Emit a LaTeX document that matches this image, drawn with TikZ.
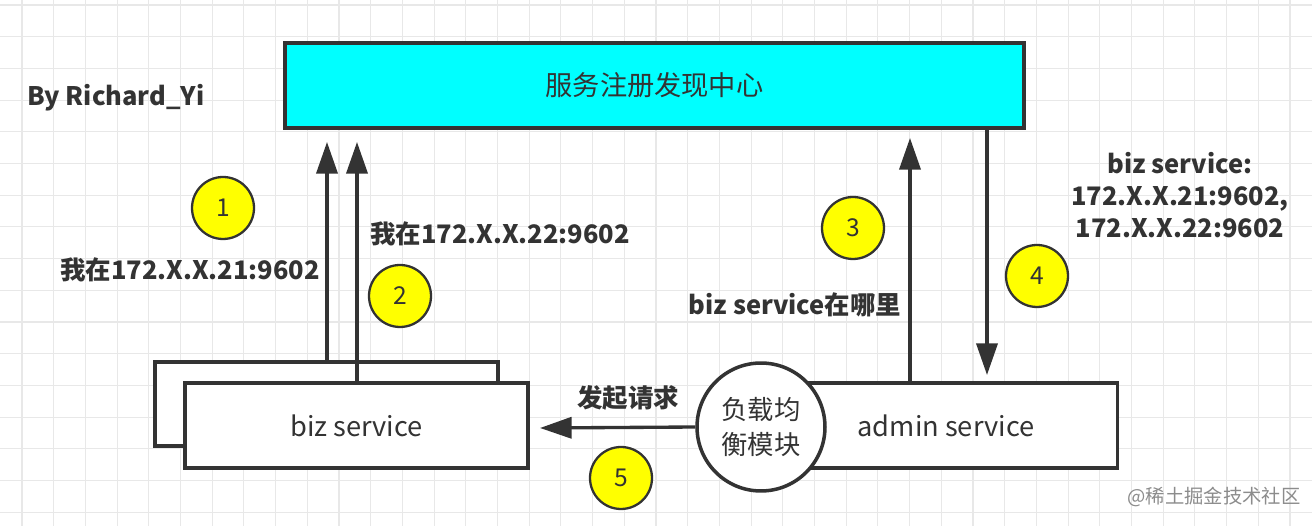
\documentclass[tikz,border=0pt]{standalone}
\usepackage{fontspec}
\setmainfont{Noto Sans CJK SC}
\usetikzlibrary{arrows.meta, positioning}
\definecolor{regcyan}{HTML}{00FFFF}
\definecolor{linegrey}{HTML}{333333}
\definecolor{markyellow}{HTML}{FFFF00}
\definecolor{gridgrey}{HTML}{E8E8E8}
\tikzset{
  svcbox/.style={
    rectangle, draw=linegrey, line width=2pt, fill=#1,
    minimum width=6.86cm, minimum height=1.7cm,
    font=\fontsize{15.5}{18}\selectfont, text=linegrey
  },
  stepmark/.style={
    circle, draw=linegrey, line width=1.3pt, fill=markyellow,
    minimum size=1.24cm, inner sep=0pt,
    font=\fontsize{14}{16}\selectfont, text=linegrey
  },
  note/.style={
    font=\bfseries\fontsize{14.5}{18}\selectfont, text=linegrey,
    align=center, inner sep=0pt
  },
  arrow/.style={-{Triangle[length=18pt,width=12pt]}, line width=1.9pt,
    draw=linegrey}
}

\begin{document}
\begin{tikzpicture}[x=0.02cm, y=-0.02cm]
  \useasboundingbox (0,0) rectangle (1312,526);
  \fill[white] (0,0) rectangle (1312,526);
  % grid
  \foreach \i in {0,...,40} {
    \draw[gridgrey, line width=0.6pt] ({22+31.7*\i},0) -- ({22+31.7*\i},526);
  }
  \foreach \i in {0,...,16} {
    \draw[gridgrey, line width=0.6pt] (0,{5+31.7*\i}) -- (1312,{5+31.7*\i});
  }

  \node[font=\bfseries\fontsize{14.5}{16}\selectfont, text=linegrey]
    (author) at (116,98) {By Richard\_Yi};

  % registry
  \node[svcbox=regcyan, minimum width=14.78cm] (registry)
    at (654.5,85.5) {服务注册发现中心};

  % services
  \node[svcbox=white, minimum height=1.68cm] (bizback) at (326.5,404) {};
  \node[svcbox=white] (biz) at (356.5,425.5) {biz service};
  \node[svcbox=white] (admin) at (946,425.5) {admin service};
  \node[circle, draw=linegrey, line width=2pt, fill=white,
        minimum size=2.56cm, inner sep=0pt, align=center,
        font=\fontsize{15}{20}\selectfont, text=linegrey]
    (lb) at (761,427) {负载均\\衡模块};

  % arrow ends
  \coordinate (reg1) at (327,142);
  \coordinate (reg2) at (357,142);
  \coordinate (ask) at (910,138);
  \coordinate (reply) at (987,375);
  \coordinate (call) at (540,428);

  \draw[arrow] (bizback.north -| reg1) -- (reg1);
  \draw[arrow] (biz.north -| reg2) -- (reg2);
  \draw[arrow] (admin.north -| ask) -- (ask);
  \draw[arrow] (registry.south -| reply) -- (reply);
  \draw[arrow] (lb.west) -- (call);

  % steps
  \node[stepmark] (s1) at (223,208) {1};
  \node[stepmark] (s2) at (400,296) {2};
  \node[stepmark] (s3) at (853,228) {3};
  \node[stepmark] (s4) at (1037,276) {4};
  \node[stepmark] (s5) at (621,478) {5};

  % labels
  \node[note] (l1) at (190,270) {我在172.X.X.21:9602};
  \node[note] (l2) at (500,234) {我在172.X.X.22:9602};
  \node[note] (l3) at (795,305) {biz service在哪里};
  \node[note] (l4) at (1180,195) {biz service:\\172.X.X.21:9602,\\172.X.X.22:9602};
  \node[note] (l5) at (628,398) {发起请求};

  \node[font=\fontsize{11}{13}\selectfont, text=black!45]
    (mark) at (1214,497) {@稀土掘金技术社区};
\end{tikzpicture}
\end{document}
